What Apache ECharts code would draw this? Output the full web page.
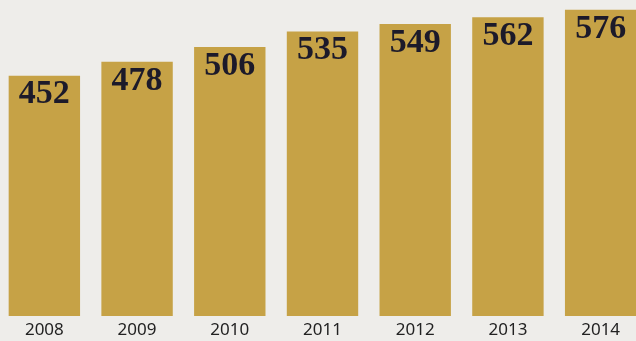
<!DOCTYPE html>
<html>
<head>
<meta charset="utf-8">
<script src="https://cdn.jsdelivr.net/npm/echarts@6/dist/echarts.min.js"></script>
<style>
  html, body { margin: 0; padding: 0; background: #eeedea; }
  #main { width: 636px; height: 341px; }
</style>
</head>
<body>
<div id="main"></div>
<script>
var years = ["2008", "2009", "2010", "2011", "2012", "2013", "2014"];
var values = [452, 478, 506, 535, 549, 562, 576];

var myChart = echarts.init(document.getElementById("main"));

var option = {
  backgroundColor: "#eeedea",
  grid: { left: -2, right: -11, top: -3, bottom: 25, outerBoundsMode: "none" },
  xAxis: {
    type: "category",
    data: years,
    axisLine: { show: false },
    axisTick: { show: false },
    axisLabel: {
      color: "#222",
      fontFamily: "Noto Sans",
      fontSize: 17,
      margin: 6
    }
  },
  yAxis: {
    type: "value",
    min: 0,
    max: 600,
    show: false,
    splitLine: { show: false }
  },
  series: [
    {
      type: "bar",
      data: values,
      barWidth: "77%",
      itemStyle: { color: "#c6a246" },
      label: {
        show: true,
        position: "insideTop",
        distance: 2,
        color: "#1c1a2a",
        fontFamily: "Liberation Serif",
        fontWeight: "bold",
        fontSize: 34
      }
    }
  ]
};

myChart.setOption(option);
</script>
</body>
</html>
